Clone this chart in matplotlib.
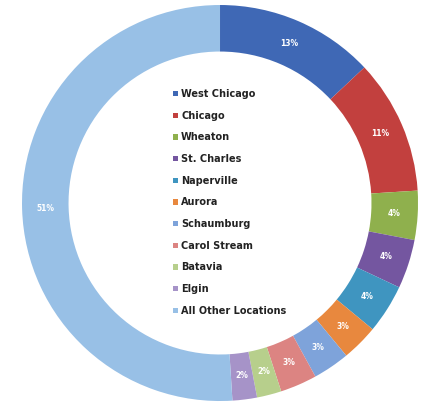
import matplotlib.pyplot as plt
import numpy as np

locations = ["West Chicago", "Chicago", "Wheaton", "St. Charles", "Naperville",
             "Aurora", "Schaumburg", "Carol Stream", "Batavia", "Elgin",
             "All Other Locations"]
shares = [13, 11, 4, 4, 4, 3, 3, 3, 2, 2, 51]
colors = ["#3f68b5", "#c2403e", "#8fb04d", "#7456a0", "#3f95c0", "#e8883e",
          "#7ea3da", "#dc8482", "#b7cf8c", "#a693c8", "#98c0e6"]

fig = plt.figure(figsize=(4.24, 4.07), dpi=100)
ax = fig.add_axes([0.0519, 0.0147, 0.934, 0.973])

wedges, texts = ax.pie(shares, colors=colors, startangle=90, counterclock=False,
                       radius=1.0, wedgeprops={'width': 0.235, 'linewidth': 0})

# percent labels in the middle of the ring
tot = sum(shares)
for w, s in zip(wedges, shares):
    mid = np.deg2rad((w.theta1 + w.theta2) / 2)
    r = 0.88
    ax.text(r * np.cos(mid), r * np.sin(mid), "%d%%" % round(100 * s / tot),
            ha='center', va='center', color='white', fontsize=5.5,
            fontweight='bold')

ax.set_xlim(-1, 1)
ax.set_ylim(-1, 1)
ax.set_aspect('equal')
ax.axis('off')

leg = ax.legend(wedges, locations, loc='upper left',
                bbox_to_anchor=(0.37, 0.80), frameon=False,
                fontsize=7, handlelength=0.5, handleheight=0.5,
                handletextpad=0.3, labelspacing=1.2, borderpad=0)
for t in leg.get_texts():
    t.set_color('#222222')
    t.set_fontweight('semibold')

fig.savefig("out.png", dpi=100)
